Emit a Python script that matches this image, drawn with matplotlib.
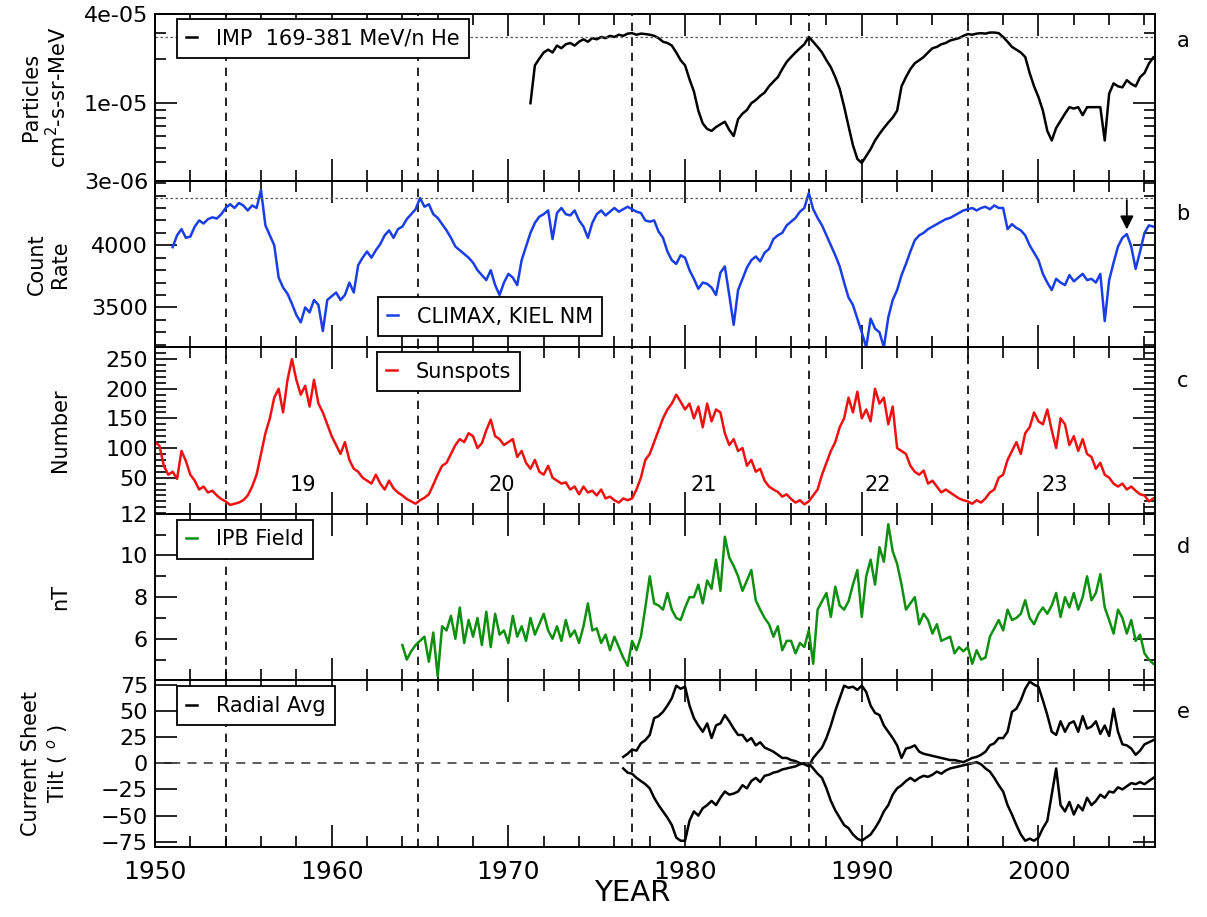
import numpy as np
import matplotlib.pyplot as plt
from matplotlib.ticker import FixedLocator, FixedFormatter, MultipleLocator, LogLocator, NullFormatter

# values, quarterly samples
imp_years = np.arange(1971.25, 2006.51, 0.25)
imp_he = [
    1.0e-5, 1.8e-5, 2.0e-5,
    2.2e-5, 2.3e-5, 2.2e-5, 2.45e-5,
    2.35e-5, 2.5e-5, 2.55e-5, 2.45e-5,
    2.6e-5, 2.7e-5, 2.6e-5, 2.75e-5,
    2.7e-5, 2.8e-5, 2.75e-5, 2.85e-5,
    2.8e-5, 2.9e-5, 2.85e-5, 2.95e-5,
    2.97e-5, 2.9e-5, 2.95e-5, 2.93e-5,
    2.9e-5, 2.85e-5, 2.75e-5, 2.6e-5,
    2.55e-5, 2.45e-5, 2.2e-5, 1.95e-5,
    1.8e-5, 1.45e-5, 1.2e-5, 8.9e-6,
    7.3e-6, 6.7e-6, 6.5e-6, 6.9e-6,
    7.2e-6, 7.5e-6, 6.6e-6, 6.0e-6,
    7.8e-6, 8.5e-6, 9.0e-6, 1.0e-5,
    1.05e-5, 1.12e-5, 1.18e-5, 1.3e-5,
    1.4e-5, 1.5e-5, 1.7e-5, 1.9e-5,
    2.05e-5, 2.2e-5, 2.35e-5, 2.5e-5,
    2.8e-5, 2.6e-5, 2.4e-5, 2.2e-5,
    1.95e-5, 1.75e-5, 1.5e-5, 1.25e-5,
    9.5e-6, 7.0e-6, 5.2e-6, 4.2e-6,
    3.95e-6, 4.4e-6, 4.9e-6, 5.6e-6,
    6.2e-6, 6.8e-6, 7.4e-6, 8.0e-6,
    8.9e-6, 1.3e-5, 1.5e-5, 1.7e-5,
    1.86e-5, 1.95e-5, 2.05e-5, 2.2e-5,
    2.35e-5, 2.4e-5, 2.5e-5, 2.55e-5,
    2.65e-5, 2.7e-5, 2.75e-5, 2.85e-5,
    2.93e-5, 2.9e-5, 2.95e-5, 2.97e-5,
    2.95e-5, 3.0e-5, 3.0e-5, 2.97e-5,
    2.8e-5, 2.6e-5, 2.4e-5, 2.3e-5,
    2.2e-5, 2.05e-5, 1.6e-5, 1.3e-5,
    1.1e-5, 8.9e-6, 6.5e-6, 5.6e-6,
    6.8e-6, 7.6e-6, 8.5e-6, 9.4e-6,
    9.2e-6, 9.4e-6, 8.3e-6, 9.4e-6,
    9.4e-6, 9.4e-6, 9.4e-6, 5.6e-6,
    1.16e-5, 1.36e-5, 1.3e-5, 1.28e-5,
    1.43e-5, 1.35e-5, 1.3e-5, 1.5e-5,
    1.6e-5, 1.85e-5, 2.04e-5,
]

climax_years = np.arange(1951.0, 2006.51, 0.25)
climax_rate = [
    3985, 4080, 4130, 4060,
    4070, 4150, 4200, 4175,
    4210, 4225, 4215, 4250,
    4300, 4330, 4300, 4340,
    4320, 4280, 4320, 4300,
    4445, 4160, 4080, 4000,
    3740, 3660, 3610, 3530,
    3440, 3380, 3500, 3460,
    3560, 3520, 3310, 3560,
    3590, 3620, 3560, 3600,
    3700, 3620, 3840, 3900,
    3950, 3900, 3960, 4010,
    4080, 4120, 4060, 4130,
    4150, 4210, 4250, 4290,
    4380, 4310, 4330, 4250,
    4220, 4170, 4120, 4060,
    3990, 3960, 3930, 3900,
    3860, 3800, 3760, 3720,
    3800, 3680, 3600, 3700,
    3770, 3740, 3680, 3880,
    3990, 4100, 4180, 4230,
    4250, 4280, 4050, 4260,
    4300, 4250, 4240, 4280,
    4200, 4150, 4060, 4180,
    4250, 4280, 4240, 4270,
    4300, 4270, 4290, 4310,
    4290, 4270, 4260, 4200,
    4190, 4200, 4110, 4060,
    3950, 3880, 3850, 3920,
    3900, 3800, 3730, 3650,
    3700, 3690, 3660, 3600,
    3780, 3830, 3600, 3360,
    3640, 3730, 3820, 3880,
    3910, 3870, 3940, 3970,
    4050, 4080, 4100, 4160,
    4190, 4220, 4270, 4300,
    4420, 4290, 4220, 4160,
    4080, 4000, 3920, 3830,
    3700, 3580, 3520, 3410,
    3300, 3180, 3410, 3330,
    3300, 3180, 3420, 3560,
    3640, 3760, 3850, 3950,
    4040, 4080, 4100, 4130,
    4150, 4170, 4190, 4210,
    4220, 4240, 4260, 4280,
    4290, 4300, 4280, 4300,
    4310, 4290, 4320, 4300,
    4300, 4130, 4170, 4140,
    4120, 4080, 4000, 3940,
    3880, 3770, 3700, 3640,
    3730, 3700, 3680, 3760,
    3710, 3740, 3770, 3720,
    3730, 3700, 3770, 3390,
    3720, 3860, 3990, 4060,
    4090, 3990, 3810, 3950,
    4100, 4160, 4150,
]

sunspot_years = np.arange(1950.0, 2006.51, 0.25)
sunspots = [
    110, 104, 70, 55,
    60, 48, 95, 78,
    55, 45, 30, 35,
    25, 28, 20, 14,
    10, 4, 6, 8,
    12, 20, 35, 55,
    90, 125, 150, 185,
    200, 160, 215, 250,
    215, 190, 205, 170,
    215, 175, 160, 140,
    120, 105, 90, 110,
    80, 65, 60, 50,
    45, 40, 55, 40,
    30, 45, 32, 25,
    20, 14, 10, 6,
    12, 16, 22, 38,
    55, 70, 75, 90,
    105, 115, 110, 125,
    120, 100, 108, 130,
    148, 120, 115, 105,
    110, 115, 85, 95,
    75, 65, 80, 60,
    55, 70, 50, 45,
    40, 42, 30, 35,
    22, 35, 25, 28,
    20, 30, 15, 18,
    12, 8, 15, 12,
    15, 30, 50, 80,
    90, 110, 130, 150,
    165, 175, 190, 178,
    165, 175, 150, 170,
    135, 175, 145, 165,
    160, 125, 105, 115,
    95, 100, 70, 80,
    60, 65, 45, 35,
    30, 26, 18, 22,
    14, 8, 12, 5,
    10, 20, 30, 55,
    75, 95, 110, 135,
    150, 185, 160, 195,
    150, 165, 145, 200,
    175, 185, 140, 170,
    100, 95, 90, 70,
    60, 55, 62, 40,
    45, 35, 25, 30,
    25, 20, 15, 12,
    10, 6, 12, 8,
    15, 25, 30, 50,
    55, 80, 95, 110,
    90, 125, 135, 160,
    145, 140, 165, 130,
    100, 150, 140, 105,
    120, 95, 115, 90,
    85, 65, 75, 55,
    50, 40, 35, 40,
    30, 35, 28, 22,
    20, 10, 15,
]

ipb_years = np.arange(1964.0, 2006.51, 0.25)
ipb_field = [
    5.7, 5.0, 5.4, 5.7,
    5.9, 6.1, 4.9, 6.3,
    4.2, 6.6, 6.4, 7.1,
    6.0, 7.5, 5.8, 6.9,
    6.1, 7.0, 5.7, 7.3,
    5.6, 7.2, 6.2, 6.4,
    5.8, 7.1, 6.1, 6.6,
    5.9, 7.0, 6.2, 6.7,
    7.2, 6.4, 6.0, 6.6,
    5.9, 6.9, 6.1, 6.4,
    5.8, 6.6, 7.7, 6.4,
    6.5, 5.8, 6.2, 5.45,
    6.1, 5.6, 5.1, 4.7,
    5.9, 5.45, 6.1, 7.5,
    9.0, 7.7, 7.6, 7.4,
    8.2, 7.4, 7.0, 6.9,
    7.5, 8.0, 8.0, 8.6,
    7.7, 8.8, 8.4, 9.8,
    8.3, 10.9, 9.9, 9.5,
    9.0, 8.3, 8.8, 9.3,
    7.85, 7.4, 7.0, 6.7,
    6.1, 6.6, 5.45, 5.9,
    5.9, 5.3, 5.8, 5.6,
    6.4, 4.8, 7.4, 7.8,
    8.2, 7.05, 8.5, 7.6,
    7.4, 7.8, 8.6, 9.3,
    7.05, 9.0, 9.8, 8.6,
    10.4, 9.7, 11.5, 10.2,
    9.6, 8.6, 7.4, 7.7,
    8.0, 6.7, 7.2, 6.9,
    6.25, 6.7, 5.9, 6.0,
    6.1, 5.3, 5.6, 5.4,
    5.6, 4.8, 5.45, 5.0,
    5.1, 6.1, 6.5, 6.9,
    6.4, 7.4, 6.9, 7.0,
    7.2, 7.85, 7.0, 6.7,
    7.2, 7.5, 7.2, 7.6,
    8.2, 7.05, 8.0, 7.5,
    8.2, 7.4, 8.0, 9.0,
    7.85, 8.2, 9.1, 7.5,
    6.9, 6.25, 7.4, 7.0,
    6.25, 6.9, 5.9, 6.2,
    5.3, 5.0, 4.8,
]

tilt_years = np.arange(1976.5, 2006.51, 0.25)
tilt_north = [
    6, 9,
    13, 12, 19, 22,
    27, 43, 45, 49,
    55, 62, 74, 71,
    73, 55, 43, 36,
    30, 38, 24, 36,
    38, 46, 40, 33,
    27, 27, 21, 24,
    17, 20, 15, 13,
    11, 8, 5, 5,
    3, 2, 0, -1,
    -3, 5, 10, 15,
    24, 36, 50, 62,
    74, 72, 73, 70,
    74, 68, 55, 48,
    46, 36, 30, 24,
    17, 5, 14, 15,
    17, 11, 9, 8,
    7, 6, 5, 4,
    3, 3, 2, 1,
    3, 5, 6, 8,
    11, 17, 19, 24,
    24, 30, 49, 52,
    60, 71, 78, 75,
    73, 60, 46, 30,
    27, 40, 30, 38,
    40, 30, 45, 33,
    35, 40, 28, 36,
    26, 52, 30, 18,
    17, 14, 8, 12,
    18, 20, 22,
]
tilt_south = [
    -5, -9,
    -10, -14, -17, -20,
    -24, -33, -40, -46,
    -52, -59, -71, -74,
    -74, -55, -46, -50,
    -43, -40, -36, -40,
    -33, -27, -30, -29,
    -27, -21, -24, -17,
    -14, -18, -12, -11,
    -9, -8, -6, -5,
    -4, -3, -1, 0,
    0, -5, -10, -14,
    -24, -36, -45, -52,
    -59, -62, -68, -72,
    -74, -71, -68, -62,
    -55, -46, -40, -30,
    -24, -21, -17, -14,
    -17, -14, -12, -13,
    -11, -8, -10, -7,
    -5, -4, -3, -2,
    -1, 0, 1, -1,
    -5, -8, -14, -21,
    -27, -40, -49, -59,
    -68, -74, -72, -74,
    -71, -62, -55, -30,
    -5, -40, -46, -37,
    -49, -40, -45, -33,
    -40, -36, -30, -33,
    -27, -28, -23, -25,
    -22, -19, -20, -18,
    -20, -17, -14,
]

reversal_years = [1954.0, 1964.9, 1977.0, 1987.0, 1996.0]
cycle_names = ["19", "20", "21", "22", "23"]
cycle_years = [1958.35, 1969.6, 1981.05, 1990.9, 2000.9]
panel_letters = ["a", "b", "c", "d", "e"]

BLUE = "#1a3ee6"
RED = "#ee1111"
GREEN = "#0f8f0f"

fig, ax = plt.subplots(5, 1, sharex=True, figsize=(12.07, 9.17), dpi=100)
fig.subplots_adjust(left=0.1284, right=0.957, top=0.9847, bottom=0.0763, hspace=0)


def legend_box(a, x, y):
    leg = a.legend(loc="upper left", bbox_to_anchor=(x, y), borderaxespad=0,
                   fancybox=False, edgecolor="black", framealpha=1,
                   handlelength=0.5, handletextpad=0.9, borderpad=0.45,
                   fontsize=15)
    leg.get_frame().set_linewidth(1.3)
    leg.set_zorder(10)
    return leg


# a: IMP helium
ax[0].plot(imp_years, imp_he, color="black", lw=1.8, label="IMP  169-381 MeV/n He")
ax[0].set_yscale("log")
ax[0].set_ylim(3e-6, 4e-5)
ax[0].axhline(2.8e-5, color="0.35", lw=0.9, ls=(0, (2, 2)))
ax[0].yaxis.set_major_locator(FixedLocator([3e-6, 1e-5, 4e-5]))
ax[0].yaxis.set_major_formatter(FixedFormatter(["3e-06", "1e-05", "4e-05"]))
ax[0].yaxis.set_minor_locator(LogLocator(subs=np.arange(2, 10)))
ax[0].yaxis.set_minor_formatter(NullFormatter())
ax[0].set_ylabel("Particles\ncm$^2$-s-sr-MeV", fontsize=15)
legend_box(ax[0], 0.022, 0.97)

# b: neutron monitor
ax[1].plot(climax_years, climax_rate, color=BLUE, lw=1.8, label="CLIMAX, KIEL NM")
ax[1].set_ylim(3180, 4520)
ax[1].axhline(4383, color="0.35", lw=0.9, ls=(0, (2, 2)))
ax[1].yaxis.set_major_locator(FixedLocator([3500, 4000]))
ax[1].yaxis.set_minor_locator(MultipleLocator(100))
ax[1].set_ylabel("Count\nRate", fontsize=15)
ax[1].annotate("", xy=(2005.0, 4105), xytext=(2005.0, 4385),
               arrowprops=dict(arrowstyle="-|>", color="black", lw=1.3, mutation_scale=20))
legend_box(ax[1], 0.223, 0.30)

# c: sunspots
ax[2].plot(sunspot_years, sunspots, color=RED, lw=1.8, label="Sunspots")
ax[2].set_ylim(-11, 270)
ax[2].yaxis.set_major_locator(FixedLocator([50, 100, 150, 200, 250]))
ax[2].yaxis.set_minor_locator(MultipleLocator(10))
ax[2].set_ylabel("Number", fontsize=15)
for name, yr in zip(cycle_names, cycle_years):
    ax[2].text(yr, 38, name, fontsize=15, ha="center", va="center")
legend_box(ax[2], 0.222, 0.97)

# d: IMF field
ax[3].plot(ipb_years, ipb_field, color=GREEN, lw=1.8, label="IPB Field")
ax[3].set_ylim(4, 12)
ax[3].yaxis.set_major_locator(FixedLocator([6, 8, 10, 12]))
ax[3].yaxis.set_minor_locator(MultipleLocator(1))
ax[3].set_ylabel("nT", fontsize=15)
legend_box(ax[3], 0.022, 0.964)

# e: current sheet tilt
ax[4].plot(tilt_years, tilt_north, color="black", lw=1.8, label="Radial Avg")
ax[4].plot(tilt_years, tilt_south, color="black", lw=1.8)
ax[4].axhline(0, color="0.3", lw=1.3, ls=(0, (5, 4)))
ax[4].set_ylim(-80, 79)
ax[4].yaxis.set_major_locator(FixedLocator([-75, -50, -25, 0, 25, 50, 75]))
ax[4].set_ylabel("Current Sheet\nTilt ( $^o$ )", fontsize=15)
legend_box(ax[4], 0.022, 0.964)

ax[4].set_xlim(1950, 2006.6)
ax[4].xaxis.set_major_locator(MultipleLocator(10))
ax[4].xaxis.set_minor_locator(MultipleLocator(2))
ax[4].set_xlabel("YEAR", fontsize=21)
ax[4].xaxis.set_label_coords(0.477, -0.19)

letter_y = [0.84, 0.80, 0.80, 0.80, 0.81]
for i, a in enumerate(ax):
    for yr in reversal_years:
        a.axvline(yr, color="black", lw=1.2, ls=(0, (5, 4)), zorder=1)
    a.tick_params(which="both", direction="in", top=True, right=True, width=1.2)
    a.tick_params(which="major", length=15.5)
    a.tick_params(which="minor", length=8)
    a.tick_params(axis="y", labelsize=16, pad=5)
    a.tick_params(axis="x", labelsize=18, pad=9)
    for s in a.spines.values():
        s.set_linewidth(1.4)
    a.yaxis.set_label_coords(-0.085, 0.5)
    a.text(1.028, letter_y[i], panel_letters[i], transform=a.transAxes,
           fontsize=15, ha="center", va="center")

fig.savefig("out.png", dpi=100)
